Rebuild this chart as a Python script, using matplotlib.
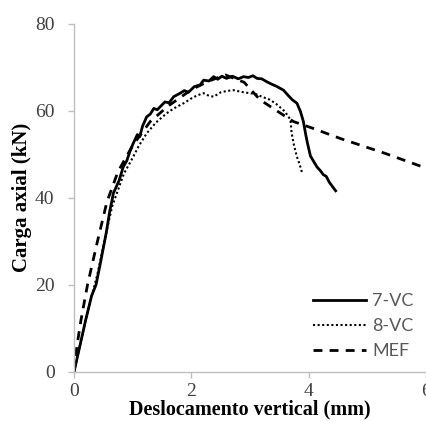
import matplotlib
matplotlib.use("Agg")
import matplotlib.pyplot as plt

# 7-VC (experimental)
vc7_x = [0, 0.1, 0.2, 0.3, 0.375, 0.45, 0.55, 0.61, 0.65, 0.67, 0.72, 0.77, 0.84, 0.9, 0.95,
         1.01, 1.08, 1.12, 1.17, 1.24, 1.3, 1.36, 1.42, 1.47, 1.55, 1.62, 1.7, 1.81, 1.88,
         1.95, 2.05, 2.15, 2.21, 2.3, 2.38, 2.45, 2.52, 2.6, 2.7, 2.8, 2.89, 2.97, 3.05, 3.12,
         3.2, 3.29, 3.38, 3.45, 3.57, 3.65, 3.72, 3.80, 3.86, 3.91, 3.95, 3.98, 4.03, 4.1,
         4.14, 4.2, 4.25, 4.3, 4.35, 4.42, 4.46]
vc7_y = [0, 6, 12, 17.5, 20, 25, 32, 37, 39.5, 41, 42.5, 44, 47.1, 48.5, 50.5,
         52.5, 54.5, 54, 56.5, 58.6, 59.2, 60.5, 60.2, 60.9, 62, 61.8, 63.2, 64, 64.6,
         64.2, 65.5, 65.9, 67, 66.8, 67.8, 67.2, 67.9, 67.4, 67.9, 67.3, 67.8, 67.6, 68, 67.4,
         67.3, 66.6, 66, 65.6, 64.7, 63.5, 62.5, 61.7, 59.8, 57.5, 54.5, 52.5, 49.6, 48,
         47.1, 46.2, 45.3, 44.9, 43.6, 42.3, 41.6]

# 8-VC (experimental)
vc8_x = [0, 0.2, 0.4, 0.55, 0.65, 0.73, 0.85, 1.01, 1.1, 1.24, 1.4, 1.58, 1.7, 1.87, 2.0,
         2.1, 2.21, 2.3, 2.38, 2.5, 2.6, 2.72, 2.85, 3.0, 3.1, 3.2, 3.34, 3.45, 3.57, 3.65,
         3.69, 3.71, 3.75, 3.8, 3.85, 3.89]
vc8_y = [0, 12, 22.5, 32, 38, 41, 45.5, 49.4, 51.8, 54.8, 57.3, 59.4, 60.5, 61.7, 62.8,
         63.5, 64, 63.4, 63.2, 64.2, 64.5, 64.7, 64.3, 64, 63.8, 63.2, 62.5, 61.5, 60.1, 58.8,
         57.8, 54.8, 52, 49.4, 47.5, 45.6]

# MEF (numerical)
mef_x = [0, 0.05, 0.12, 0.23, 0.4, 0.56, 0.75, 1.0, 1.3, 1.6, 2.0, 2.3, 2.58, 2.9, 3.17,
         3.52, 3.74, 4.08, 4.54, 5.3, 6.0]
mef_y = [0, 6, 12, 20, 30, 39, 46, 52, 57.5, 61, 64.8, 66.8, 68.2, 66.5, 62.5,
         59.4, 57.5, 55.9, 53.6, 50.2, 46.8]

x_ticks = [0, 2, 4, 6]
y_ticks = [0, 20, 40, 60, 80]

W, H = 427, 421
fig = plt.figure(figsize=(W / 100, H / 100), dpi=100)
ax = fig.add_axes([74 / W, 49 / H, 352 / W, 348.5 / H])

ax.plot(vc7_x, vc7_y, color="black", lw=2.0, label="7-VC", solid_joinstyle="round")
ax.plot(vc8_x, vc8_y, color="black", lw=1.5, linestyle=(0, (1, 1.2)), label="8-VC")
ax.plot(mef_x, mef_y, color="black", lw=2.0, linestyle=(0, (3.2, 2.6)), label="MEF")

ax.set_xlim(0, 6)
ax.set_ylim(0, 80)
ax.set_xticks(x_ticks)
ax.set_yticks(y_ticks)

for s in ["top", "right"]:
    ax.spines[s].set_visible(False)
for s in ["left", "bottom"]:
    ax.spines[s].set_color("#bfbfbf")
    ax.spines[s].set_linewidth(1.0)

ax.tick_params(axis="both", direction="out", length=4, width=1, color="#bfbfbf",
               labelcolor="#404040", labelsize=14)
for lab in ax.get_xticklabels() + ax.get_yticklabels():
    lab.set_family("Liberation Serif")
ax.tick_params(axis="x", pad=4)
ax.tick_params(axis="y", pad=10)

ax.set_xlabel("Deslocamento vertical (mm)", family="Liberation Serif", fontweight="bold",
              fontsize=14.5, color="black")
ax.xaxis.set_label_coords(0.5, -0.08)
ax.set_ylabel("Carga axial (kN)", family="Liberation Serif", fontweight="bold",
              fontsize=15, color="black", labelpad=2)

leg = ax.legend(loc="lower right", bbox_to_anchor=(1.0, 0.0), frameon=False,
                prop={"family": "Lato", "size": 13}, handlelength=2.9,
                handletextpad=0.35, labelspacing=0.5, borderaxespad=0.3)
for t in leg.get_texts():
    t.set_color("#595959")

fig.savefig("out.png", dpi=100)
